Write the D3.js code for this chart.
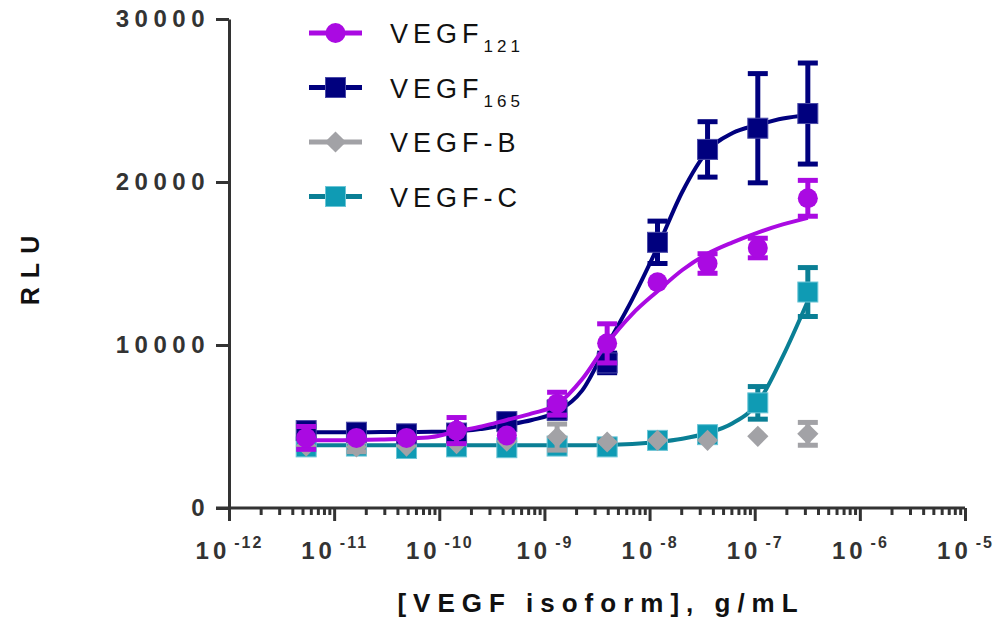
<!DOCTYPE html>
<html>
<head>
<meta charset="utf-8">
<script src="https://cdn.jsdelivr.net/npm/d3@7"></script>
<style>
  html, body { margin: 0; padding: 0; background: #fff; }
  svg { display: block; font-family: "Liberation Sans", Arial, sans-serif; }
</style>
</head>
<body>
<div id="chart"></div>
<script>
// concentrations (g/mL), 3-fold dilution
const conc = [5.42e-12, 1.63e-11, 4.88e-11, 1.46e-10, 4.39e-10, 1.32e-9, 3.95e-9, 1.19e-8, 3.56e-8, 1.07e-7, 3.2e-7];

const vegf121 = [4300, 4300, 4300, 4750, 4450, 6400, 10100, 13850, 15000, 15950, 19000];
const vegf121Err = [700, 0, 0, 800, 0, 700, 1200, 0, 600, 600, 1100];
const vegf165 = [4750, 4650, 4550, 4600, 5300, 6000, 8900, 16300, 22000, 23300, 24200];
const vegf165Err = [300, 0, 0, 0, 400, 500, 600, 1300, 1700, 3350, 3100];
const vegfB = [3800, 3750, 3800, 3950, 4100, 4350, 4050, 4150, 4150, 4400, 4550];
const vegfBErr = [0, 300, 0, 0, 0, 800, 0, 0, 0, 0, 700];
const vegfC = [3750, 3800, 3650, 3750, 3700, 3800, 3750, 4150, 4500, 6450, 13250];
const vegfCErr = [200, 0, 0, 0, 0, 0, 0, 0, 0, 1000, 1500];

// fitted curves at half-dilution steps
const fitConc = [5.42e-12, 9.39e-12, 1.63e-11, 2.82e-11, 4.88e-11, 8.45e-11, 1.46e-10, 2.53e-10, 4.39e-10, 7.6e-10,
  1.32e-9, 2.28e-9, 3.95e-9, 6.84e-9, 1.19e-8, 2.05e-8, 3.56e-8, 6.16e-8, 1.07e-7, 1.85e-7, 3.2e-7];
const fit121 = [4150, 4160, 4170, 4200, 4250, 4350, 4700, 5000, 5400, 5800, 6350, 7900, 10100, 11900, 13300, 14600, 15600, 16300, 16900, 17400, 17800];
const fit165 = [4650, 4650, 4650, 4655, 4660, 4680, 4700, 4850, 5100, 5400, 5900, 7200, 10000, 12800, 16000, 19400, 21900, 23000, 23500, 23900, 24100];
const fitC = [3850, 3850, 3850, 3850, 3850, 3850, 3850, 3850, 3850, 3850, 3850, 3855, 3870, 3930, 4050, 4250, 4600, 5200, 6450, 9300, 12700];

const xExponents = [-12, -11, -10, -9, -8, -7, -6, -5];
const yTicks = [0, 10000, 20000, 30000];

const seriesNames = ['VEGF', 'VEGF', 'VEGF-B', 'VEGF-C'];
const seriesSubs = ['121', '165', '', ''];

const width = 994, height = 620;
const svg = d3.select('#chart').append('svg')
  .attr('width', width)
  .attr('height', height);

const x = d3.scaleLog().domain([1e-12, 1e-5]).range([229, 965]);
const y = d3.scaleLinear().domain([0, 30000]).range([508, 19]);

const axisColor = '#333';

// x axis: minor ticks
const minorTicks = x.ticks().filter(t => Math.abs(Math.log10(t) - Math.round(Math.log10(t))) > 1e-6);
svg.append('g')
  .attr('transform', 'translate(0,508)')
  .call(d3.axisBottom(x).tickValues(minorTicks).tickSize(7).tickFormat(''))
  .call(g => g.select('.domain').remove())
  .call(g => g.selectAll('line').attr('stroke', axisColor).attr('stroke-width', 3));

// x axis: major ticks + labels
const xAxis = svg.append('g')
  .attr('transform', 'translate(0,508)')
  .call(d3.axisBottom(x).tickValues(xExponents.map(e => Math.pow(10, e))).tickSize(13).tickFormat(''))
  .call(g => g.select('.domain').remove())
  .call(g => g.selectAll('line').attr('stroke', axisColor).attr('stroke-width', 3));

xAxis.selectAll('.tick').each(function(d, i) {
  const t = d3.select(this).append('text')
    .attr('y', 51)
    .attr('text-anchor', 'middle')
    .attr('fill', axisColor)
    .attr('font-weight', 'bold')
    .attr('font-size', 24)
    .style('letter-spacing', '4px');
  t.append('tspan').text('10');
  t.append('tspan')
    .attr('dx', 4)
    .attr('dy', -11)
    .attr('font-size', 16)
    .style('letter-spacing', '2px')
    .text(String(xExponents[i]));
});

svg.append('line')
  .attr('x1', 216).attr('x2', 965)
  .attr('y1', 508).attr('y2', 508)
  .attr('stroke', axisColor)
  .attr('stroke-width', 3);

// y axis
svg.append('g')
  .attr('transform', 'translate(229,0)')
  .call(d3.axisLeft(y).tickValues(yTicks).tickSize(13).tickSizeOuter(0).tickPadding(6).tickFormat(d3.format('d')))
  .call(g => g.select('.domain').attr('stroke', axisColor).attr('stroke-width', 3))
  .call(g => g.selectAll('line').attr('stroke', axisColor).attr('stroke-width', 3))
  .call(g => g.selectAll('text')
    .attr('fill', axisColor)
    .attr('font-weight', 'bold')
    .attr('font-size', 24)
    .style('letter-spacing', '5.5px')
    .attr('font-family', null));

// axis titles
svg.append('text')
  .attr('transform', 'translate(39,266) rotate(-90)')
  .attr('text-anchor', 'middle')
  .attr('font-weight', 'bold')
  .attr('font-size', 25)
  .attr('fill', '#111')
  .style('letter-spacing', '9px')
  .text('RLU');

svg.append('text')
  .attr('x', 601)
  .attr('y', 612)
  .attr('text-anchor', 'middle')
  .attr('font-weight', 'bold')
  .attr('font-size', 26)
  .attr('fill', '#111')
  .style('letter-spacing', '7px')
  .text('[VEGF isoform], g/mL');

// series
const series = [
  { name: 'VEGF-C', values: vegfC, err: vegfCErr, fit: fitC, line: '#0a7f95', fill: '#0f9bb4', edge: '#6cc5d6', shape: 'square' },
  { name: 'VEGF-B', values: vegfB, err: vegfBErr, fit: null, line: '#a2a2a6', fill: '#a2a2a6', edge: '#a2a2a6', shape: 'diamond' },
  { name: 'VEGF165', values: vegf165, err: vegf165Err, fit: fit165, line: '#00007e', fill: '#00007e', edge: '#4a4aa8', shape: 'square' },
  { name: 'VEGF121', values: vegf121, err: vegf121Err, fit: fit121, line: '#aa0ae2', fill: '#aa0ae2', edge: '#aa0ae2', shape: 'circle' },
];

function drawMarker(g, s, cx, cy) {
  if (s.shape === 'circle') {
    g.append('circle').attr('cx', cx).attr('cy', cy).attr('r', 10).attr('fill', s.fill);
  } else if (s.shape === 'square') {
    g.append('rect')
      .attr('x', cx - 10).attr('y', cy - 10)
      .attr('width', 20).attr('height', 20)
      .attr('fill', s.fill)
      .attr('stroke', s.edge).attr('stroke-width', 1);
  } else {
    g.append('rect')
      .attr('x', -7.5).attr('y', -7.5)
      .attr('width', 15).attr('height', 15)
      .attr('fill', s.fill)
      .attr('transform', `translate(${cx},${cy}) rotate(45)`);
  }
}

const line = d3.line()
  .x(d => x(d[0]))
  .y(d => y(d[1]))
  .curve(d3.curveMonotoneX);

series.forEach(s => {
  const g = svg.append('g');
  if (s.fit) {
    g.append('path')
      .attr('d', line(fitConc.map((c, i) => [c, s.fit[i]])))
      .attr('fill', 'none')
      .attr('stroke', s.line)
      .attr('stroke-width', 4);
  }
  conc.forEach((c, i) => {
    const e = s.err[i];
    if (e > 0) {
      const cx = x(c);
      const y0 = y(s.values[i] - e), y1 = y(s.values[i] + e);
      g.append('line').attr('x1', cx).attr('x2', cx).attr('y1', y0).attr('y2', y1)
        .attr('stroke', s.line).attr('stroke-width', 5);
      [y0, y1].forEach(yy => {
        g.append('line').attr('x1', cx - 10).attr('x2', cx + 10).attr('y1', yy).attr('y2', yy)
          .attr('stroke', s.line).attr('stroke-width', 5);
      });
    }
  });
  conc.forEach((c, i) => drawMarker(g, s, x(c), y(s.values[i])));
});

// legend
const legendOrder = [3, 2, 1, 0];
const legend = svg.append('g');
legendOrder.forEach((si, row) => {
  const s = series[si];
  const ly = 33 + row * 54.5;
  legend.append('line')
    .attr('x1', 309).attr('x2', 362)
    .attr('y1', ly).attr('y2', ly)
    .attr('stroke', s.line)
    .attr('stroke-width', 5);
  drawMarker(legend, s, 335.5, ly);
  const t = legend.append('text')
    .attr('x', 390)
    .attr('y', ly + 10)
    .attr('font-size', 27)
    .attr('fill', '#111')
    .style('letter-spacing', '5px')
    .text(seriesNames[row]);
  if (seriesSubs[row]) {
    t.append('tspan')
      .attr('dy', 9)
      .attr('font-size', 17)
      .style('letter-spacing', '4px')
      .text(seriesSubs[row]);
  }
});
</script>
</body>
</html>
